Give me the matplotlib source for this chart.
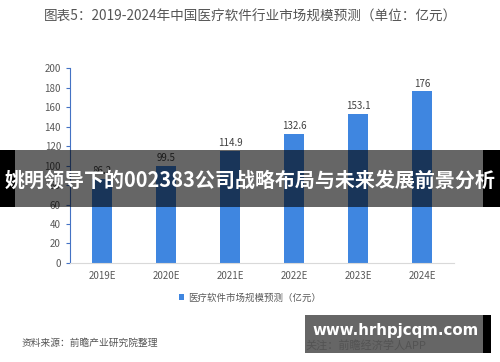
import matplotlib.pyplot as plt
from matplotlib.patches import Rectangle

plt.rcParams['font.family'] = ['Noto Sans CJK SC', 'DejaVu Sans']

years = ['2019E', '2020E', '2021E', '2022E', '2023E', '2024E']
market = [86.2, 99.5, 114.9, 132.6, 153.1, 176]
value_labels = ['86.2', '99.5', '114.9', '132.6', '153.1', '176']
yticks = [0, 20, 40, 60, 80, 100, 120, 140, 160, 180, 200]

title = '图表5：2019-2024年中国医疗软件行业市场规模预测（单位：亿元）'
series_name = '医疗软件市场规模预测（亿元）'
source = '资料来源：前瞻产业研究院整理'
banner = '姚明领导下的002383公司战略布局与未来发展前景分析'
site = 'www.hrhpjcqm.com'

blue = '#3F86E0'

fig = plt.figure(figsize=(5, 3.62), dpi=100)
ax = fig.add_axes([0.14, 0.2735, 0.768, 0.5385])

bars = ax.bar(range(len(years)), market, width=0.3, color=blue, label=series_name)
for i, v in enumerate(market):
    ax.text(i, v + 3, value_labels[i], ha='center', va='bottom', fontsize=7, color='#404040')

ax.set_xlim(-0.5, len(years) - 0.5)
ax.set_ylim(0, 200)
ax.set_yticks(yticks)
ax.set_xticks(range(len(years)))
ax.set_xticklabels(years)
ax.tick_params(axis='y', labelsize=7, labelcolor='#595959', color='#4472C4', length=3, width=0.8)
ax.tick_params(axis='x', labelsize=7, labelcolor='#595959', length=0, pad=6)
for s in ['top', 'right']:
    ax.spines[s].set_visible(False)
ax.spines['left'].set_color('#4472C4')
ax.spines['left'].set_linewidth(0.8)
ax.spines['bottom'].set_color('#D9D9D9')
ax.spines['bottom'].set_linewidth(0.8)

fig.text(0.5, 0.955, title, ha='center', va='center', fontsize=9.8, color='#555555')

leg = fig.legend(handles=[bars], labels=[series_name], loc='center', bbox_to_anchor=(0.5, 0.177),
                 frameon=False, fontsize=6.8, handlelength=0.6, handleheight=0.6, handletextpad=0.4)
for t in leg.get_texts():
    t.set_color('#595959')

fig.text(0.044, 0.052, source, ha='left', va='center', fontsize=7, color='#555555', style='italic')

# faint app credit behind the lower banner
fig.text(0.61, 0.045, '关注：前瞻经济学人APP', ha='left', va='center', fontsize=8, color='#D0D0D0')

# overlay banner across the middle
fig.patches.append(Rectangle((0, 1 - 207 / 362), 1, 57 / 362, transform=fig.transFigure,
                             facecolor='black', alpha=0.6, edgecolor='none', zorder=10))
fig.patches.append(Rectangle((0, 1 - 207 / 362), 15 / 500, 57 / 362, transform=fig.transFigure,
                             facecolor='black', edgecolor='none', zorder=11))
fig.patches.append(Rectangle((483 / 500, 1 - 207 / 362), 17 / 500, 57 / 362, transform=fig.transFigure,
                             facecolor='black', edgecolor='none', zorder=11))
fig.text(0.5, 1 - 180 / 362, banner, ha='center', va='center', fontsize=14.4, color='white',
         fontweight='bold', zorder=12)

# lower-right banner
fig.patches.append(Rectangle((305 / 500, 1 - 353 / 362), 178 / 500, 38 / 362, transform=fig.transFigure,
                             facecolor='black', alpha=0.6, edgecolor='none', zorder=10))
fig.patches.append(Rectangle((483 / 500, 1 - 353 / 362), 8 / 500, 38 / 362, transform=fig.transFigure,
                             facecolor='black', edgecolor='none', zorder=11))
fig.text(396 / 500, 1 - 331 / 362, site, ha='center', va='center', fontsize=10.8, color='white',
         fontweight='bold', family=['DejaVu Sans'], zorder=12)

fig.savefig('out.png', dpi=100)
